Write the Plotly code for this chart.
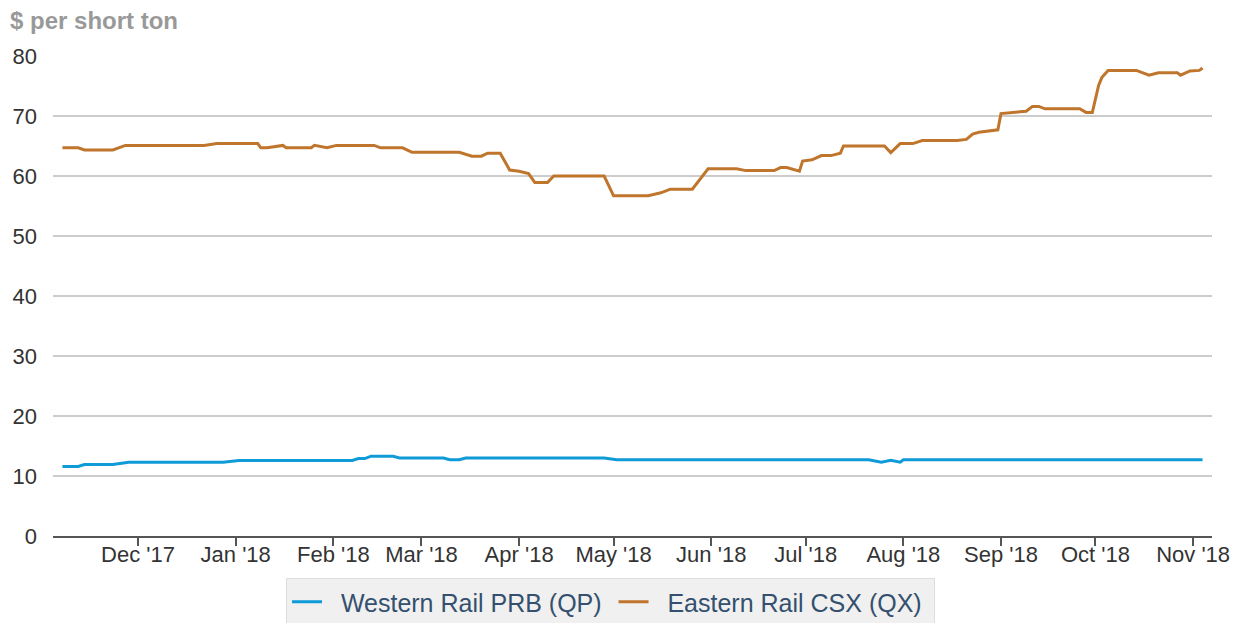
import plotly.graph_objects as go

# ---- data ----
qp_dates = ["2017-11-07", "2017-11-12", "2017-11-14", "2017-11-23", "2017-11-28", "2017-12-28",
            "2018-01-02", "2018-02-07", "2018-02-09", "2018-02-11", "2018-02-13", "2018-02-20",
            "2018-02-22", "2018-03-08", "2018-03-10", "2018-03-13", "2018-03-15", "2018-04-28",
            "2018-05-02", "2018-07-21", "2018-07-25", "2018-07-28", "2018-07-31", "2018-08-01",
            "2018-11-04"]
qp_values = [11.6, 11.6, 11.9, 11.9, 12.3, 12.3,
             12.6, 12.6, 12.9, 12.9, 13.3, 13.3,
             13.0, 13.0, 12.7, 12.7, 13.0, 13.0,
             12.7, 12.7, 12.3, 12.6, 12.3, 12.7,
             12.7]

qx_dates = ["2017-11-07", "2017-11-12", "2017-11-14", "2017-11-23", "2017-11-27", "2017-12-22",
            "2017-12-26", "2018-01-08", "2018-01-09", "2018-01-11", "2018-01-16", "2018-01-17",
            "2018-01-25", "2018-01-26", "2018-01-30", "2018-02-02", "2018-02-14", "2018-02-16",
            "2018-02-23", "2018-02-26", "2018-03-13", "2018-03-17", "2018-03-20", "2018-03-22",
            "2018-03-26", "2018-03-29", "2018-04-01", "2018-04-04", "2018-04-06", "2018-04-10",
            "2018-04-12", "2018-04-28", "2018-05-01", "2018-05-12", "2018-05-16", "2018-05-19",
            "2018-05-26", "2018-05-31", "2018-06-09", "2018-06-12", "2018-06-21", "2018-06-23",
            "2018-06-25", "2018-06-29", "2018-06-30", "2018-07-03", "2018-07-06", "2018-07-09",
            "2018-07-12", "2018-07-13", "2018-07-26", "2018-07-28", "2018-07-31", "2018-08-04",
            "2018-08-07", "2018-08-18", "2018-08-21", "2018-08-23", "2018-08-25", "2018-08-29",
            "2018-08-31", "2018-09-01", "2018-09-04", "2018-09-07", "2018-09-09", "2018-09-11",
            "2018-09-13", "2018-09-15", "2018-09-26", "2018-09-28", "2018-09-30", "2018-10-02",
            "2018-10-03", "2018-10-05", "2018-10-14", "2018-10-18", "2018-10-21", "2018-10-27",
            "2018-10-28", "2018-10-31", "2018-11-03", "2018-11-04"]
qx_values = [64.7, 64.7, 64.35, 64.35, 65.1, 65.1,
             65.4, 65.4, 64.7, 64.7, 65.1, 64.7,
             64.7, 65.1, 64.7, 65.1, 65.1, 64.7,
             64.7, 63.95, 63.95, 63.3, 63.3, 63.8,
             63.8, 61.0, 60.8, 60.4, 58.9, 58.9,
             60.0, 60.0, 56.7, 56.7, 57.2, 57.8,
             57.8, 61.2, 61.2, 60.9, 60.9, 61.4,
             61.4, 60.8, 62.5, 62.7, 63.4, 63.4,
             63.8, 65.0, 65.0, 63.9, 65.4, 65.4,
             65.9, 65.9, 66.1, 67.0, 67.3, 67.6,
             67.7, 70.4, 70.5, 70.7, 70.8, 71.6,
             71.6, 71.2, 71.2, 70.6, 70.6, 75.1,
             76.4, 77.6, 77.6, 76.8, 77.2, 77.2,
             76.8, 77.5, 77.6, 78.0]

tick_dates = ["2017-12-01", "2018-01-01", "2018-02-01", "2018-03-01", "2018-04-01", "2018-05-01",
              "2018-06-01", "2018-07-01", "2018-08-01", "2018-09-01", "2018-10-01", "2018-11-01"]
tick_labels = ["Dec '17", "Jan '18", "Feb '18", "Mar '18", "Apr '18", "May '18",
               "Jun '18", "Jul '18", "Aug '18", "Sep '18", "Oct '18", "Nov '18"]
y_ticks = [0, 10, 20, 30, 40, 50, 60, 70, 80]

FONT = "Liberation Sans, Arial, sans-serif"
NB = "\u00a0"

W, H = 1240, 615  # page body has an 8px margin

fig = go.Figure()
fig.add_trace(go.Scatter(x=qp_dates, y=qp_values, mode="lines",
                         name=NB * 2 + "Western Rail PRB (QP)" + NB,
                         line=dict(color="#0f9ad8", width=3)))
fig.add_trace(go.Scatter(x=qx_dates, y=qx_values, mode="lines",
                         name=NB * 2 + "Eastern Rail CSX (QX)" + NB,
                         line=dict(color="#c0752c", width=3)))

fig.update_layout(
    width=W, height=H,
    margin=dict(l=45, r=36, t=48, b=87, autoexpand=False),
    paper_bgcolor="white", plot_bgcolor="white",
    font=dict(family=FONT, size=22, color="#333333"),
    title=dict(text="<b>$ per short ton</b>", xref="container", yref="container",
               x=2 / W, xanchor="left", y=1 - 13 / H, yanchor="middle",
               font=dict(family=FONT, size=24, color="#999999")),
    xaxis=dict(range=["2017-11-04", "2018-11-07"], tickvals=tick_dates, ticktext=tick_labels,
               showgrid=False, showline=True, linecolor="#555555", linewidth=2,
               ticks="outside", ticklen=8, tickwidth=2, tickcolor="#555555",
               ticklabelstandoff=-10,
               tickfont=dict(size=22, color="#333333"), zeroline=False, fixedrange=True),
    yaxis=dict(range=[0, 80], tickvals=y_ticks, showgrid=True, gridcolor="#cccccc", gridwidth=2,
               zeroline=False, showline=False, ticks="", ticklabelstandoff=15,
               tickfont=dict(size=22, color="#333333"), fixedrange=True),
    legend=dict(orientation="h", x=(286 - 53) / 1159, xanchor="left", y=-0.0875, yanchor="top",
                bgcolor="#f0f0f0", bordercolor="#dddddd", borderwidth=1,
                font=dict(family=FONT, size=25, color="#34506e")),
    showlegend=True,
)

fig.write_html("out.html")
